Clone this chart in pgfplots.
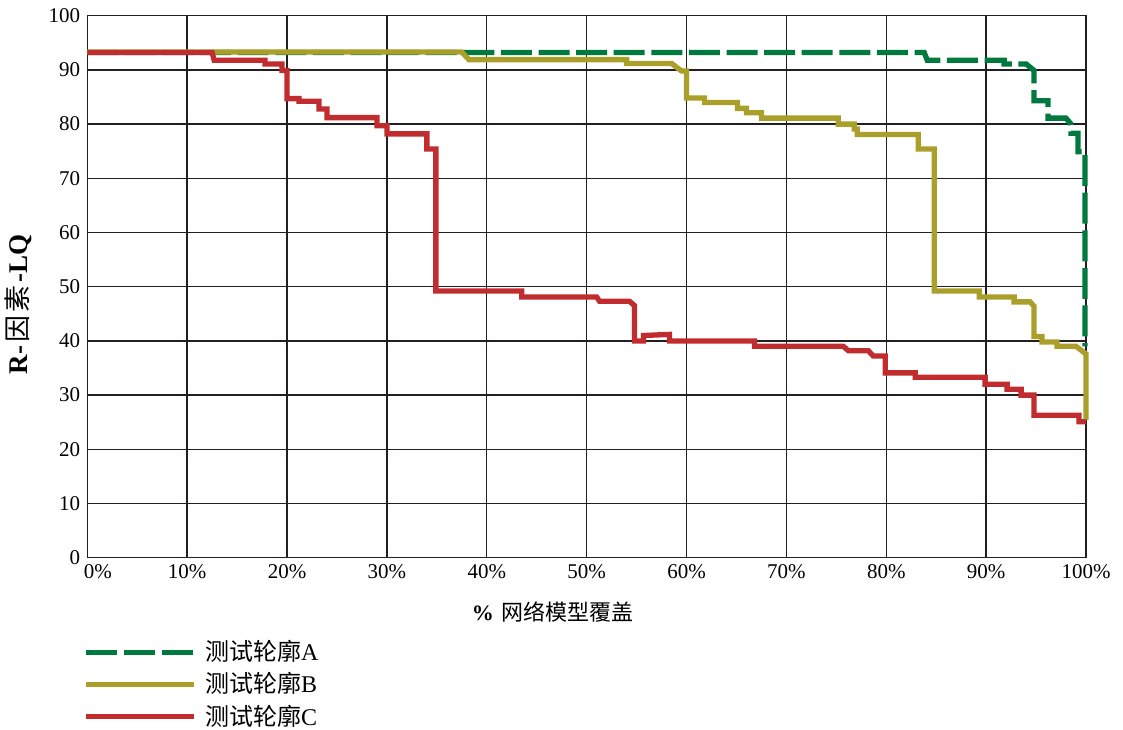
\documentclass[border=0pt]{standalone}
\usepackage{fontspec}
\setmainfont{Liberation Serif}
\newfontfamily\cjk{Noto Sans CJK SC}
\usepackage{pgfplots}
\pgfplotsset{compat=1.18}

\definecolor{profA}{HTML}{00793F}
\definecolor{profB}{HTML}{A99F2A}
\definecolor{profC}{HTML}{C12C2F}
\definecolor{gridink}{HTML}{231F20}

\begin{document}
\begin{tikzpicture}
\path[use as bounding box] (0,0) rectangle (561.5pt,-364.5pt);
\begin{axis}[
  at={(43.65pt,-278.85pt)}, anchor=south west,
  scale only axis, width=499.35pt, height=271pt,
  xmin=0, xmax=100, ymin=0, ymax=100,
  xtick={0,10,...,100}, ytick={0,10,...,100},
  xticklabels={\hphantom{00}0\%,10\%,20\%,30\%,40\%,50\%,60\%,70\%,80\%,90\%,100\%},
  /pgf/number format/assume math mode=true,
  ticklabel style={font=\fontsize{10.5}{12}\selectfont},
  major tick length=0pt,
  grid=major,
  grid style={gridink, line width=0.7pt},
  axis line style={gridink, line width=0.7pt},
  clip=false,
  xlabel={\textbf{\%}\hspace{4pt}{\cjk 网络模型覆盖}},
  xlabel style={at={(axis description cs:0.4663,-0.0996)}, anchor=center,
    font=\fontsize{11}{13}\selectfont},
  ylabel={\textbf{R-}\hspace{1.5pt}{\cjk 因\hspace{1.5pt}素}\hspace{1.5pt}\textbf{-LQ}},
  ylabel style={at={(axis description cs:-0.0689,0.467)}, anchor=center,
    font=\fontsize{13.5}{15}\selectfont},
  legend style={draw=none, fill=none, at={(axis description cs:-0.004,-0.1439)},
    anchor=north west, inner sep=0pt, row sep=0pt, column sep=1.8pt,
    nodes={inner sep=2.2pt, anchor=west},
    font=\fontsize{12}{14}\selectfont},
  legend cell align=left,
  legend image code/.code={\draw[#1] (0pt,0pt) -- (54pt,0pt);},
  every axis plot/.append style={line width=2.65pt},
]
% profile A: dashed green
\addplot[profA, dash pattern=on 15.5pt off 3.3pt] coordinates {
  (0,93.2) (83.8,93.2) (84.1,91.8) (91.8,91.8) (91.8,91.1) (94.0,91.1)
  (94.8,89.9) (94.8,84.3) (96.2,84.3) (96.2,81.1) (98.0,81.1) (98.5,80.0)
  (98.5,78.3) (99.2,78.3) (99.2,74.9) (99.9,74.9) (99.9,39.0)
};
\addlegendentry{{\cjk 测试轮廓}A}
% profile B: olive
\addplot[profB] coordinates {
  (0,93.3) (37.5,93.3) (38.2,91.9) (54.0,91.9) (54.0,91.2) (58.5,91.2)
  (59.5,89.8) (60.0,89.8) (60.0,84.8) (61.8,84.8) (61.8,84.0) (65.1,84.0)
  (65.1,82.9) (66.0,82.9) (66.0,82.1) (67.5,82.1) (67.5,81.1) (75.2,81.1)
  (75.2,80.0) (76.8,80.0) (76.8,79.1) (77.1,79.1) (77.1,78.1) (83.2,78.1)
  (83.2,75.4) (84.8,75.4) (84.8,49.2) (89.3,49.2) (89.3,48.1) (92.8,48.1)
  (92.8,47.2) (94.4,47.2) (94.8,46.4) (94.8,40.8) (95.6,40.8) (95.6,39.8)
  (97.1,39.8) (97.1,39.0) (99.0,39.0) (100,37.6) (100,25.4)
};
\addlegendentry{{\cjk 测试轮廓}B}
% profile C: red
\addplot[profC] coordinates {
  (0,93.2) (12.5,93.2) (12.7,91.8) (17.8,91.8) (17.8,91.1) (19.5,91.1)
  (19.5,89.9) (20.0,89.9) (20.0,84.7) (21.2,84.7) (21.2,84.2) (23.2,84.2)
  (23.2,82.8) (24.0,82.8) (24.0,81.2) (29.0,81.2) (29.0,79.7) (30.0,79.7)
  (30.0,78.2) (34.0,78.2) (34.0,75.4) (34.9,75.4) (34.9,49.2) (43.5,49.2)
  (43.5,48.1) (51.0,48.1) (51.3,47.3) (54.3,47.3) (54.8,46.5) (54.8,40.0)
  (55.7,40.0) (55.7,41.0) (58.3,41.2) (58.3,40.0) (66.8,40.0) (66.8,39.0)
  (75.7,39.0) (76.2,38.2) (78.2,38.2) (78.7,37.2) (79.9,37.2) (79.9,34.1)
  (82.9,34.1) (82.9,33.3) (89.9,33.3) (89.9,32.0) (92.1,32.0) (92.1,31.1)
  (93.5,31.1) (93.5,30.0) (94.8,30.0) (94.8,26.3) (99.3,26.3) (99.3,25.1)
  (100,25.1)
};
\addlegendentry{{\cjk 测试轮廓}C}
\end{axis}
\end{tikzpicture}
\end{document}
